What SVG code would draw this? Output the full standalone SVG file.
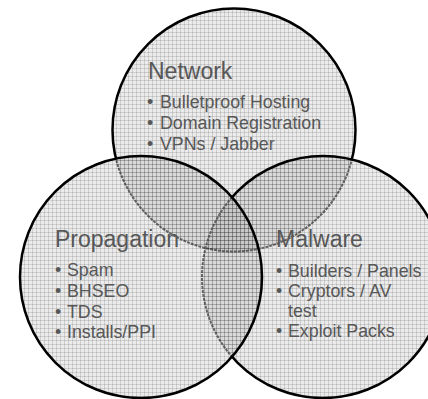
<svg xmlns="http://www.w3.org/2000/svg" width="428" height="399" viewBox="0 0 428 399">
<style>
.fill{fill:url(#grid)}
.edge{fill:none;stroke:#000;stroke-width:2.5}
.hid{fill:none;stroke:#6e6e6e;stroke-width:2;stroke-dasharray:3 1}
.title{font-family:"Liberation Sans",Arial,sans-serif;font-size:23px;fill:#575757}
.item{font-family:"Liberation Sans",Arial,sans-serif;font-size:17.8px;fill:#575757}
</style>
<defs>
<pattern id="grid" patternUnits="userSpaceOnUse" width="4" height="4">
<rect width="4" height="4" fill="#000" fill-opacity="0.08"/>
<path d="M0 0.5H4M0.5 0V4" stroke="#000" stroke-opacity="0.12" stroke-width="1" fill="none"/>
</pattern>
<clipPath id="inP"><circle cx="141" cy="277" r="121"/></clipPath>
<clipPath id="inPM"><circle cx="141" cy="277" r="121"/><circle cx="323" cy="277" r="121"/></clipPath>
<mask id="outP" maskUnits="userSpaceOnUse" x="0" y="0" width="428" height="399">
<rect width="428" height="399" fill="#fff"/><circle cx="141" cy="277" r="121" fill="#000"/>
</mask>
<mask id="outPM" maskUnits="userSpaceOnUse" x="0" y="0" width="428" height="399">
<rect width="428" height="399" fill="#fff"/><circle cx="141" cy="277" r="121" fill="#000"/><circle cx="323" cy="277" r="121" fill="#000"/>
</mask>
</defs>
<g id="connectors"/>
<g id="network">
<circle class="fill" cx="234" cy="130" r="121.5"/>
<circle class="edge" cx="234" cy="130" r="121.5" mask="url(#outPM)"/>
<circle class="hid" cx="234" cy="130" r="121.5" clip-path="url(#inPM)"/>
<text class="title" x="148" y="79">Network</text>
<text class="item" x="147" y="108">•</text><text class="item" x="160" y="108">Bulletproof Hosting</text>
<text class="item" x="147" y="129">•</text><text class="item" x="160" y="129">Domain Registration</text>
<text class="item" x="147" y="150">•</text><text class="item" x="160" y="150">VPNs / Jabber</text>
</g>
<g id="malware">
<circle class="fill" cx="323" cy="277" r="121"/>
<circle class="edge" cx="323" cy="277" r="121" mask="url(#outP)"/>
<circle class="hid" cx="323" cy="277" r="121" clip-path="url(#inP)"/>
<text class="title" x="276" y="247">Malware</text>
<text class="item" x="276" y="277">•</text><text class="item" x="288" y="277">Builders / Panels</text>
<text class="item" x="276" y="297">•</text><text class="item" x="288" y="297">Cryptors / AV</text>
<text class="item" x="288" y="317">test</text>
<text class="item" x="276" y="337">•</text><text class="item" x="288" y="337">Exploit Packs</text>
</g>
<g id="propagation">
<circle class="fill" cx="141" cy="277" r="121"/>
<circle class="edge" cx="141" cy="277" r="121"/>
<text class="title" x="55" y="247">Propagation</text>
<text class="item" x="55" y="276">•</text><text class="item" x="67" y="276">Spam</text>
<text class="item" x="55" y="297">•</text><text class="item" x="67" y="297">BHSEO</text>
<text class="item" x="55" y="318">•</text><text class="item" x="67" y="318">TDS</text>
<text class="item" x="55" y="338">•</text><text class="item" x="67" y="338">Installs/PPI</text>
</g>
</svg>
